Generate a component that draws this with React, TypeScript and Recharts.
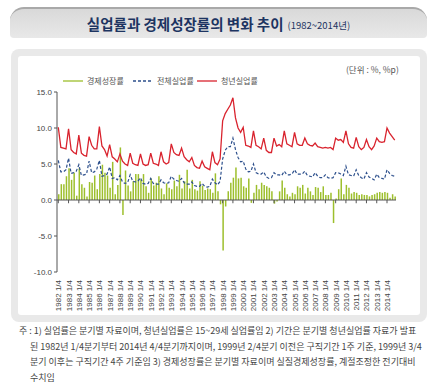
import React from "react";
import { ComposedChart, Bar, Line, XAxis, YAxis, ReferenceLine } from "recharts";

// 1982 1/4 ~ 2014 4/4, quarterly
const years = Array.from({ length: 33 }, (_, i) => 1982 + i);
const quarters = years.flatMap((y) => [1, 2, 3, 4].map((q) => `${y} ${q}/4`));
const yearTicks = years.map((y) => `${y} 1/4`);
const yTicks = [-10, -5, 0, 5, 10, 15];

// 경제성장률 (전기대비, %)
const gdpGrowth = [
  0.8, 2.2, 2.2, 3.3, // 1982
  4.4, 2.8, 3.8, 0.6,
  4.4, 2.2, 1.7, 0.5,
  2.5, 2.4, 3.4, 1.5, // 1985
  3.6, 4.9, 3.8, 3.4,
  1.7, 5.3, 0.8, 2.1,
  7.3, -2.1, 4.1, 2.0,
  1.2, 2.6, 3.6, 3.6,
  2.8, 3.6, 1.9, 1.0, // 1990
  3.0, 2.0, 2.4, 3.3,
  1.6, 0.8, 2.3, 1.7,
  1.5, 2.7, 1.9, 3.5,
  1.6, 2.6, 4.2, 1.6,
  2.8, 1.5, 1.3, 2.6, // 1995
  2.0, 1.4, 1.6, 1.5,
  1.0, 3.7, 1.2, -0.6,
  -7.0, -0.9, 1.2, 2.4,
  3.1, 4.5, 3.0, 3.1,
  1.9, 1.7, 3.0, -0.4, // 2000
  1.0, 2.1, 1.5, 2.4,
  2.1, 1.9, 1.7, 1.2,
  -0.5, -0.2, 1.2, 2.7,
  1.7, 0.8, 0.5, 1.0,
  0.8, 1.9, 1.7, 2.1, // 2005
  0.9, 1.7, 1.2, 0.7,
  1.8, 1.7, 1.1, 1.9,
  0.7, 0.7, 1.0, -3.2,
  0.2, 1.5, 3.0, 0.8,
  2.1, 1.7, 0.9, 1.1, // 2010
  1.0, 0.7, 0.8, 0.7,
  0.7, 0.5, 0.7, 0.8,
  1.0, 1.1, 1.0, 1.1,
  1.0, 0.3, 0.8, 0.5, // 2014
];

// 전체실업률 (%)
const totalUnemp = [
  5.5, 3.9, 3.9, 4.2, // 1982
  5.8, 3.7, 3.8, 4.0,
  4.9, 3.4, 3.5, 3.6,
  5.4, 3.8, 3.9, 4.3, // 1985
  5.5, 3.3, 3.4, 3.6,
  4.6, 3.0, 3.1, 2.8,
  3.4, 2.5, 2.3, 2.4,
  3.5, 2.6, 2.5, 2.6,
  3.1, 2.3, 2.2, 2.3, // 1990
  3.0, 2.3, 2.2, 2.2,
  2.8, 2.4, 2.3, 2.4,
  3.3, 2.9, 2.7, 2.6,
  3.0, 2.4, 2.2, 2.2,
  2.5, 2.0, 1.9, 1.9, // 1995
  2.3, 1.9, 1.8, 1.9,
  2.9, 2.4, 2.1, 2.6,
  5.7, 6.9, 7.4, 7.4,
  8.6, 7.0, 5.9, 5.3,
  5.4, 4.3, 3.9, 4.0, // 2000
  5.0, 3.8, 3.6, 3.6,
  3.9, 3.2, 3.0, 3.1,
  3.8, 3.5, 3.5, 3.4,
  4.0, 3.5, 3.5, 3.6,
  4.2, 3.6, 3.6, 3.6, // 2005
  4.0, 3.4, 3.3, 3.2,
  3.8, 3.3, 3.1, 3.1,
  3.5, 3.1, 3.0, 3.1,
  3.8, 3.8, 3.6, 3.4,
  4.7, 3.5, 3.4, 3.3, // 2010
  4.2, 3.4, 3.1, 2.9,
  3.8, 3.2, 3.0, 2.8,
  3.6, 3.1, 3.0, 2.9,
  4.2, 3.7, 3.4, 3.3, // 2014
];

// 청년실업률 (15~29세, %)
const youthUnemp = [
  10.1, 7.3, 7.2, 7.1, // 1982
  9.9, 7.0, 6.6, 6.4,
  9.0, 6.5, 6.2, 6.1,
  8.8, 7.6, 7.1, 7.1, // 1985
  10.2, 7.5, 7.0, 6.1,
  7.7, 6.0, 5.7, 5.3,
  6.4, 5.4, 5.0, 4.8,
  6.5, 5.1, 4.9, 4.8,
  6.4, 5.0, 4.8, 4.9, // 1990
  6.5, 5.1, 5.0, 4.8,
  6.7, 5.3, 5.0, 5.2,
  7.8, 6.6, 6.3, 6.2,
  7.2, 6.0, 5.6, 5.3,
  5.9, 4.8, 4.5, 4.4, // 1995
  5.4, 4.6, 4.4, 4.2,
  6.7, 5.2, 4.9, 5.7,
  11.0, 12.0, 12.6, 13.2,
  14.2, 11.4, 10.0, 9.4,
  10.1, 7.6, 7.5, 7.3, // 2000
  9.6, 7.6, 7.4, 7.1,
  8.6, 6.9, 6.6, 6.6,
  8.6, 7.5, 7.7, 7.4,
  9.6, 7.8, 7.6, 7.4,
  9.4, 7.8, 7.6, 7.6, // 2005
  8.6, 7.8, 7.6, 7.5,
  7.9, 7.4, 7.3, 7.2,
  7.3, 7.2, 7.3, 7.0,
  8.6, 8.3, 8.4, 8.0,
  9.6, 7.8, 7.3, 7.2, // 2010
  8.7, 7.4, 7.0, 7.3,
  8.4, 7.4, 7.0, 7.5,
  8.6, 8.1, 8.0, 8.1,
  10.0, 9.3, 8.8, 8.3, // 2014
];

const data = quarters.map((q, i) => ({
  q,
  gdp: gdpGrowth[i],
  total: totalUnemp[i],
  youth: youthUnemp[i],
}));

const KR = '"Noto Sans CJK KR", "Noto Sans", sans-serif';
const NUM = '"Liberation Sans", Arial, sans-serif';

const GREEN = "#9dbf2c";
const BLUE = "#2c4f8c";
const RED = "#d9232e";

const notes = [
  "주 : 1) 실업률은 분기별 자료이며, 청년실업률은 15~29세 실업률임 2) 기간은 분기별 청년실업률 자료가 발표",
  "된 1982년 1/4분기부터 2014년 4/4분기까지이며, 1999년 2/4분기 이전은 구직기간 1주 기준, 1999년 3/4",
  "분기 이후는 구직기간 4주 기준임 3) 경제성장률은 분기별 자료이며 실질경제성장률, 계절조정한 전기대비",
  "수치임",
];

const XTick = (props: any) => {
  const { x, y, payload } = props;
  return (
    <text
      x={x}
      y={y}
      transform={`rotate(-90 ${x} ${y})`}
      textAnchor="end"
      dy={3}
      fontSize={8}
      fill="#444"
      fontFamily={NUM}
    >
      {payload.value}
    </text>
  );
};

function LegendItem({ color, dashed, label, left }: { color: string; dashed?: boolean; label: string; left: number }) {
  return (
    <div style={{ position: "absolute", left, top: 75, display: "flex", alignItems: "center" }}>
      <svg width={20} height={10}>
        <line x1={0} y1={5} x2={20} y2={5} stroke={color} strokeWidth={1.3} strokeDasharray={dashed ? "3 2" : undefined} />
      </svg>
      <span style={{ fontSize: 8, marginLeft: 4, color: "#555", fontFamily: KR }}>{label}</span>
    </div>
  );
}

export default function App() {
  return (
    <div style={{ position: "absolute", left: 0, top: 0, width: 437, height: 387, background: "#fff", overflow: "hidden" }}>
      {/* title bar */}
      <div
        style={{
          position: "absolute",
          left: 10,
          top: 7,
          width: 417,
          height: 31,
          borderRadius: "14px 14px 4px 4px",
          background: "linear-gradient(#d9d9d9, #e8e8e8)",
          borderTop: "2px solid #a9a9a9",
          boxSizing: "border-box",
          display: "flex",
          alignItems: "center",
          justifyContent: "center",
          fontFamily: KR,
          color: "#1d3461",
        }}
      >
        <span style={{ fontSize: 14.5, fontWeight: 700 }}>실업률과 경제성장률의 변화 추이</span>
        <span style={{ fontSize: 9.5, marginLeft: 4, marginTop: 2 }}>(1982~2014년)</span>
      </div>

      {/* chart panel */}
      <div style={{ position: "absolute", left: 11, top: 49, width: 416, height: 273, borderRadius: 8, background: "#e9e9e9" }} />
      <div style={{ position: "absolute", left: 18, top: 56, width: 402, height: 259, borderRadius: 3, background: "#fff" }} />

      <div style={{ position: "absolute", left: 346, top: 63, fontSize: 8.5, color: "#555", fontFamily: KR }}>(단위 : %, %p)</div>

      <LegendItem color={GREEN} label="경제성장률" left={63} />
      <LegendItem color={BLUE} dashed label="전체실업률" left={133} />
      <LegendItem color={RED} label="청년실업률" left={197} />

      <div style={{ position: "absolute", left: 0, top: 0 }}>
        <ComposedChart width={437} height={387} data={data} margin={{ top: 92, right: 41, bottom: 70, left: 0 }}>
          <XAxis
            dataKey="q"
            ticks={yearTicks}
            interval={0}
            height={45}
            axisLine={false}
            tickLine={false}
            tickSize={6}
            tick={<XTick />}
          />
          <YAxis
            domain={[-10, 15]}
            ticks={yTicks}
            width={57}
            tickSize={3}
            tickMargin={2}
            tickFormatter={(v: number) => v.toFixed(1)}
            tick={{ fontSize: 8, fill: "#444", fontFamily: NUM }}
            axisLine={{ stroke: "#555" }}
            tickLine={{ stroke: "#555" }}
          />
          <ReferenceLine y={0} stroke="#555" />
          {yearTicks.map((t) => (
            <ReferenceLine
              key={t}
              segment={[
                { x: t, y: 0 },
                { x: t, y: -0.45 },
              ]}
              stroke="#555"
            />
          ))}
          <Bar dataKey="gdp" fill={GREEN} barSize={1.5} isAnimationActive={false} />
          <Line dataKey="total" stroke={BLUE} strokeWidth={1.2} strokeDasharray="3 2" dot={false} isAnimationActive={false} />
          <Line dataKey="youth" stroke={RED} strokeWidth={1.3} dot={false} isAnimationActive={false} />
        </ComposedChart>
      </div>

      {/* notes */}
      {notes.map((n, i) => (
        <div
          key={i}
          style={{
            position: "absolute",
            left: i === 0 ? 19 : 30,
            top: 325 + i * 15.5,
            width: i === 0 ? 391 : 380,
            fontSize: 9,
            lineHeight: "12px",
            color: "#444",
            fontFamily: KR,
            textAlign: i < 3 ? "justify" : "left",
            textAlignLast: i < 3 ? "justify" : "left",
            whiteSpace: "nowrap",
          }}
        >
          {n}
        </div>
      ))}
    </div>
  );
}
